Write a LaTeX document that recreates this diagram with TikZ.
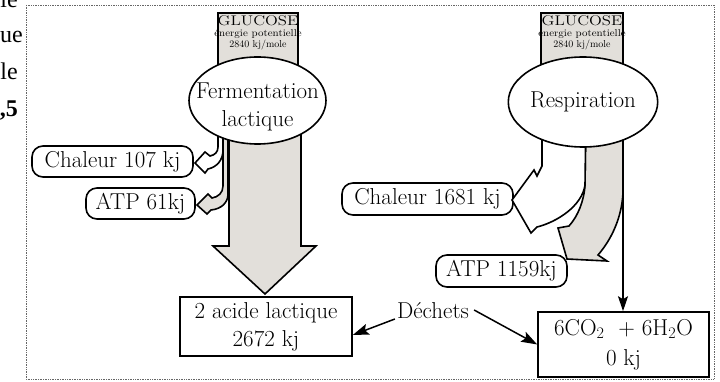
\documentclass[tikz,border=0pt]{standalone}
\usepackage{fontspec}
\newfontfamily\timesf{Liberation Serif}
\usetikzlibrary{shapes.geometric,arrows.meta,calc}
\definecolor{gfill}{RGB}{226,223,218}
\begin{document}
\begin{tikzpicture}[x=1pt,y=-1pt,
  lw/.style={line width=1.6pt, line join=miter},
  big/.style={font=\fontsize{23}{28}\selectfont},
  ell/.style={ellipse, draw, lw, fill=white, inner sep=0pt, big},
  rbox/.style={draw, lw, rounded corners=11pt, fill=white, inner sep=0pt, big},
  sbox/.style={draw, lw, fill=white, inner sep=0pt, big, align=center},
  glu/.style={draw, lw, fill=gfill},
  flow/.style={draw, lw},
  gtxt/.style={inner sep=0pt, anchor=base},
  gbig/.style={gtxt, font=\fontsize{14}{14}\selectfont},
  gsmall/.style={gtxt, font=\fontsize{10}{10}\selectfont},
  conn/.style={line width=1.5pt, -{Stealth[length=16pt,width=11pt,inset=3pt]}},
  vconn/.style={line width=1.3pt, -{Stealth[length=15pt,width=10pt,inset=3pt]}},
  frag/.style={anchor=base east, inner sep=0pt, font=\timesf\fontsize{24}{24}\selectfont},
]
\useasboundingbox (0,0) rectangle (720,382);
\clip (0,0) rectangle (720,382);

% fragments of surrounding text
\node[frag] (f1) at (18,8) {le};
\node[frag, anchor=base west] (f2) at (0,43) {ue};
\node[frag] (f3) at (18,80) {le};
\node[frag] (f4) at (18,117) {\bfseries ,5};

% frame
\draw[densely dotted, line width=0.7pt, black!60] (26,5) rectangle (714,379);

% boxes
\node[rbox, minimum width=161, minimum height=31] (chal1) at (112.5,161.5) {Chaleur 107 kj};
\node[rbox, minimum width=109, minimum height=31] (atp1) at (140.5,203.5) {ATP 61kj};
\node[sbox, minimum width=172, minimum height=59] (lact) at (266,326.5) {2 acide lactique\\2672 kj};
\node[rbox, minimum width=171, minimum height=32] (chal2) at (427.5,199) {Chaleur 1681 kj};
\node[rbox, minimum width=131, minimum height=32] (atp2) at (501.5,271) {ATP 1159kj};
\node[inner sep=1pt, big] (dech) at (433,311) {Déchets};
\node[sbox, minimum width=171, minimum height=65, font=\fontsize{23}{30}\selectfont] (co2) at (623.5,344.5) {6CO\textsubscript{2}\ \ + 6H\textsubscript{2}O\\0 kj};

% ---------- fermentation ----------
\filldraw[glu] (218,13) rectangle (298,90);
\node[gbig] (g1a) at (258,25.7) {\scalebox{1.2}[1]{GLUCOSE}};
\node[gsmall] (g1b) at (258,37) {\scalebox{1.1}[1]{énergie potentielle}};
\node[gsmall] (g1c) at (258,48) {2840 kj/mole};

\filldraw[flow, fill=gfill] (229,110) -- (229,246) -- (213,246) -- (265,294) -- (316,246) -- (301,246) -- (301,110) -- cycle;
\filldraw[flow, fill=gfill] (223,110) -- (223,186) .. controls (223,193) and (218,197) .. (212,198) -- (208,194) -- (197,205) -- (207,214) -- (211,210) .. controls (221,209) and (228,203) .. (228,194) -- (228,110) -- cycle;
\filldraw[flow, fill=white] (218,110) -- (218,147) .. controls (218,152) and (215,155) .. (210,156) -- (205,152) -- (195,163) -- (205,173) -- (208,169) .. controls (217,167) and (223,160) .. (223,150) -- (223,110) -- cycle;

\node[ell, minimum width=137, minimum height=87] (ferm) at (257.5,100.5) {};
\node[big, align=center, inner sep=0pt] (fermt) at ([yshift=-6pt]ferm.center) {Fermentation\\lactique};

% ---------- respiration ----------
\filldraw[glu] (541,13) rectangle (623,90);
\node[gbig] (g2a) at (582,26) {\scalebox{1.2}[1]{GLUCOSE}};
\node[gsmall] (g2b) at (582,37) {\scalebox{1.1}[1]{énergie potentielle}};
\node[gsmall] (g2c) at (582,48) {2840 kj/mole};

\filldraw[flow, fill=gfill] (586,110) -- (585,185) .. controls (584,201) and (578,216) .. (569,226) -- (558,228) -- (567,259) -- (607,261) -- (598,255) .. controls (611,240) and (622,218) .. (623,192) -- (623,110) -- cycle;
\filldraw[flow, fill=white] (542,110) -- (542,166) -- (537,176) -- (534,170) -- (512,200) -- (531,233) -- (537,227) .. controls (557,222) and (582,206) .. (585,185) -- (586,110) -- cycle;

\coordinate (rtop) at (623,110);
\draw[vconn] (rtop) -- (rtop |- co2.north);

\node[ell, minimum width=138, minimum height=90] (resp) at (583,102) {Respiration};

% waste arrows
\draw[conn] ([xshift=-1pt,yshift=-8pt]dech.west) -- ([yshift=-8.5pt]lact.east);
\draw[conn] ([xshift=4pt,yshift=1pt]dech.east) -- (co2.west);
\end{tikzpicture}
\end{document}
